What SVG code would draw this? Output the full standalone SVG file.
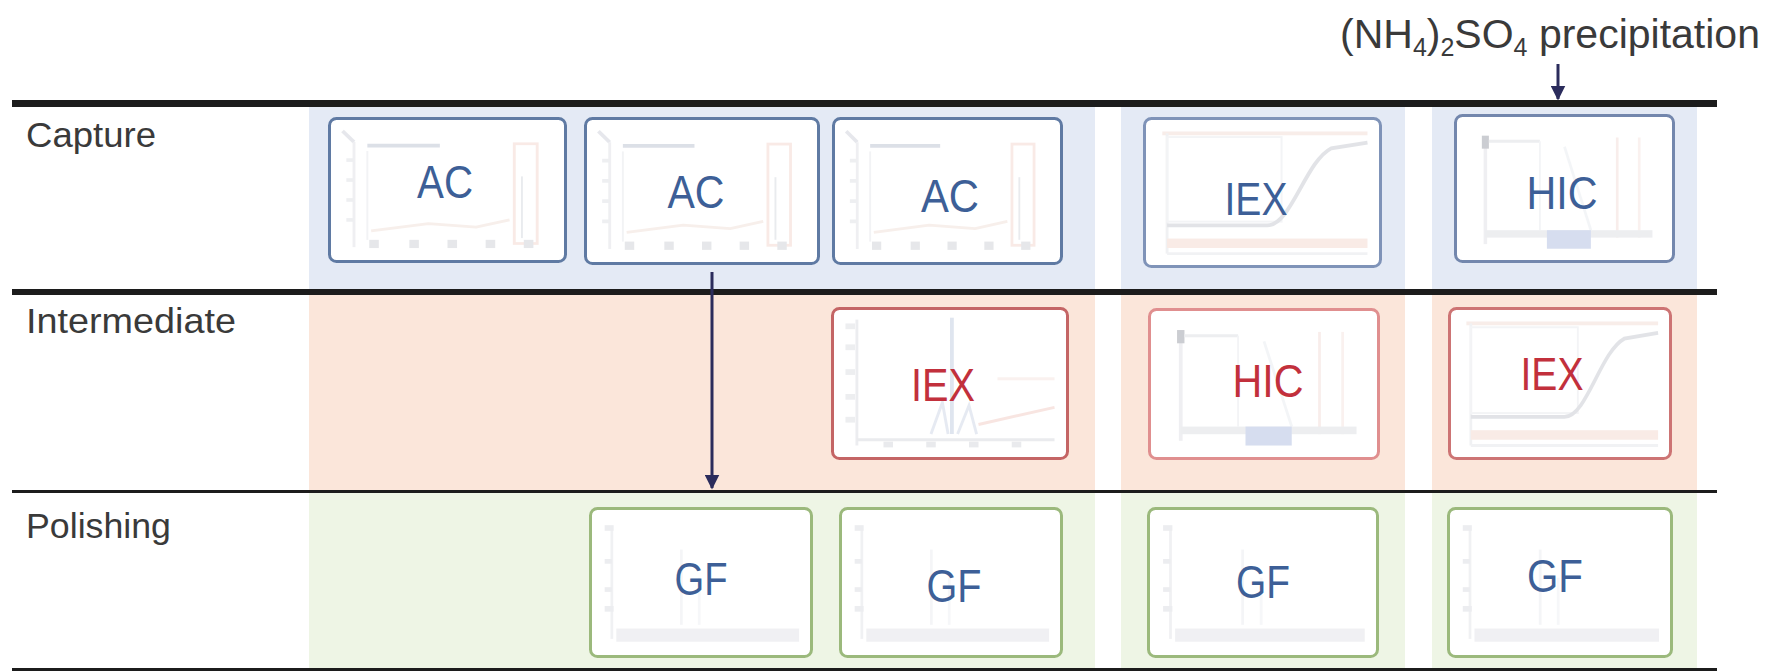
<svg xmlns="http://www.w3.org/2000/svg" xmlns:xlink="http://www.w3.org/1999/xlink" width="1779" height="671" viewBox="0 0 1779 671">
<style>
.row{font-family:"Liberation Sans",Arial,sans-serif;font-size:35px;fill:#3a3a3a}
.lbl{font-family:"Liberation Sans",Arial,sans-serif;font-size:47px;text-anchor:middle}
.blue{fill:#3d5f97}
.red{fill:#c2303c}
.bx{fill:#ffffff;stroke-width:3}
.bb{stroke:#5f7aa3}
.br{stroke:#cd7474}
.bg{stroke:#9bb97c}
.rule{stroke:#1c1c1c}
.conn{stroke:#2b2c5c;stroke-width:3;fill:none}
.ch{opacity:0.45}
</style>
<defs>
<marker id="ah" viewBox="0 0 10 10" refX="9" refY="5" markerWidth="5" markerHeight="5" orient="auto" markerUnits="strokeWidth">
<path d="M0,0 L10,5 L0,10 z" fill="#2b2c5c"/>
</marker>
<symbol id="chAC" viewBox="0 0 240 150" preserveAspectRatio="none">
<g>
<line x1="10" y1="10" x2="22" y2="22" stroke="#c9ccd6" stroke-width="4"/>
<line x1="22" y1="22" x2="22" y2="138" stroke="#dcdde3" stroke-width="3"/>
<line x1="36" y1="26" x2="112" y2="26" stroke="#b3bbcc" stroke-width="4"/>
<line x1="36" y1="32" x2="36" y2="130" stroke="#e3e5ea" stroke-width="2"/>
<rect x="190" y="24" width="24" height="110" fill="none" stroke="#f2d2c8" stroke-width="3"/>
<line x1="198" y1="60" x2="198" y2="128" stroke="#d0d3db" stroke-width="2"/>
<g fill="#dadce2"><rect x="14" y="40" width="8" height="4"/><rect x="14" y="62" width="8" height="4"/><rect x="14" y="84" width="8" height="4"/><rect x="14" y="106" width="8" height="4"/></g>
<g fill="#c9cbd2"><rect x="38" y="130" width="10" height="9"/><rect x="80" y="130" width="10" height="9"/><rect x="120" y="130" width="10" height="9"/><rect x="160" y="130" width="10" height="9"/><rect x="200" y="130" width="10" height="9"/></g>
<polyline points="40,120 100,112 150,116 185,108" fill="none" stroke="#efdcd3" stroke-width="3"/>
</g>
</symbol>
<symbol id="chIEXs" viewBox="0 0 240 150" preserveAspectRatio="none">
<g>
<line x1="15" y1="12" x2="230" y2="12" stroke="#f0d8d0" stroke-width="4"/>
<line x1="20" y1="12" x2="20" y2="140" stroke="#e0e1e6" stroke-width="3"/>
<rect x="20" y="16" width="120" height="90" fill="none" stroke="#e6e7ec" stroke-width="2"/>
<path d="M20 110 L125 110 C150 110 165 42 192 28 L230 22" fill="none" stroke="#bfc3cb" stroke-width="4"/>
<rect x="20" y="124" width="210" height="10" fill="#f2d4c8"/>
<line x1="20" y1="140" x2="230" y2="140" stroke="#e2e3e8" stroke-width="3"/>
</g>
</symbol>
<symbol id="chHIC" viewBox="0 0 240 150" preserveAspectRatio="none">
<g>
<line x1="30" y1="20" x2="30" y2="135" stroke="#dcdde3" stroke-width="4"/>
<rect x="26" y="18" width="8" height="14" fill="#8e929c"/>
<line x1="34" y1="24" x2="92" y2="24" stroke="#d8dae0" stroke-width="3"/>
<line x1="92" y1="24" x2="92" y2="120" stroke="#e5e7ec" stroke-width="2"/>
<line x1="180" y1="20" x2="180" y2="128" stroke="#f1d9d3" stroke-width="3"/>
<line x1="205" y1="20" x2="205" y2="128" stroke="#f4e2dd" stroke-width="3"/>
<line x1="120" y1="30" x2="150" y2="120" stroke="#e6e9ef" stroke-width="3"/>
<rect x="30" y="120" width="190" height="8" fill="#d8dae0"/>
<rect x="100" y="120" width="50" height="20" fill="#a6b6dd"/>
</g>
</symbol>
<symbol id="chIEXp" viewBox="0 0 240 150" preserveAspectRatio="none">
<g>
<line x1="22" y1="8" x2="22" y2="140" stroke="#d6d8de" stroke-width="3"/>
<g fill="#d8dae0"><rect x="10" y="12" width="10" height="6"/><rect x="10" y="34" width="10" height="6"/><rect x="10" y="60" width="10" height="6"/><rect x="10" y="86" width="10" height="6"/><rect x="10" y="110" width="10" height="6"/></g>
<line x1="122" y1="6" x2="122" y2="128" stroke="#b9c6dc" stroke-width="4"/>
<path d="M100 128 L112 95 L118 128 M128 128 L140 98 L148 128" fill="none" stroke="#c9d1e4" stroke-width="3"/>
<path d="M150 118 L230 100" fill="none" stroke="#f0c6be" stroke-width="3"/>
<line x1="170" y1="70" x2="230" y2="70" stroke="#f5e2dc" stroke-width="3"/>
<line x1="22" y1="134" x2="230" y2="134" stroke="#d2d4da" stroke-width="3"/>
<g fill="#cfd1d8"><rect x="50" y="136" width="10" height="6"/><rect x="95" y="136" width="10" height="6"/><rect x="140" y="136" width="10" height="6"/><rect x="185" y="136" width="10" height="6"/></g>
</g>
</symbol>
<symbol id="chGF" viewBox="0 0 240 150" preserveAspectRatio="none">
<g>
<line x1="20" y1="15" x2="20" y2="135" stroke="#e0e1e6" stroke-width="3"/>
<g fill="#d6d8de"><rect x="12" y="14" width="10" height="6"/><rect x="12" y="50" width="8" height="5"/><rect x="12" y="80" width="8" height="5"/><rect x="12" y="100" width="10" height="6"/></g>
<line x1="98" y1="40" x2="98" y2="120" stroke="#e8eaef" stroke-width="3"/>
<line x1="118" y1="70" x2="118" y2="120" stroke="#eceef2" stroke-width="3"/>
<rect x="25" y="124" width="205" height="14" fill="#dfe0e5"/>
</g>
</symbol>
</defs>
<rect x="0" y="0" width="1779" height="671" fill="#ffffff"/>
<g id="bands">
<rect x="309" y="107" width="786" height="182" fill="#e4eaf5"/>
<rect x="1121" y="107" width="284" height="182" fill="#e4eaf5"/>
<rect x="1432" y="107" width="265" height="182" fill="#e4eaf5"/>
<rect x="309" y="295" width="786" height="195" fill="#fbe6da"/>
<rect x="1121" y="295" width="284" height="195" fill="#fbe6da"/>
<rect x="1432" y="295" width="265" height="195" fill="#fbe6da"/>
<rect x="309" y="493" width="786" height="175" fill="#eef5e5"/>
<rect x="1121" y="493" width="284" height="175" fill="#eef5e5"/>
<rect x="1432" y="493" width="265" height="175" fill="#eef5e5"/>
</g>
<g id="rules">
<line class="rule" x1="12" y1="103.5" x2="1717" y2="103.5" stroke-width="7"/>
<line class="rule" x1="12" y1="292" x2="1717" y2="292" stroke-width="6"/>
<line class="rule" x1="12" y1="491.5" x2="1717" y2="491.5" stroke-width="3"/>
<line class="rule" x1="12" y1="669.5" x2="1717" y2="669.5" stroke-width="3"/>
</g>
<g id="row-labels">
<text class="row" x="26" y="147" textLength="130" lengthAdjust="spacingAndGlyphs">Capture</text>
<text class="row" x="26" y="333" textLength="210" lengthAdjust="spacingAndGlyphs">Intermediate</text>
<text class="row" x="26" y="538" textLength="145" lengthAdjust="spacingAndGlyphs">Polishing</text>
</g>
<g id="precip-label">
<text x="1340" y="48" font-family="'Liberation Sans',Arial,sans-serif" font-size="41" fill="#3a3a3a">(NH<tspan font-size="25" dy="8">4</tspan><tspan dy="-8">)</tspan><tspan font-size="25" dy="8">2</tspan><tspan dy="-8">SO</tspan><tspan font-size="25" dy="8">4</tspan><tspan dy="-8"> precipitation</tspan></text>
</g>
<g id="cap-ac1"><rect class="bx bb" x="329.5" y="118.5" width="236" height="143" rx="7"/><use class="ch" xlink:href="#chAC" x="333" y="122" width="229" height="136"/><text class="lbl blue" x="445" y="198" textLength="56" lengthAdjust="spacingAndGlyphs">AC</text></g>
<g id="cap-ac2"><rect class="bx bb" x="585.5" y="118.5" width="233" height="145" rx="7"/><use class="ch" xlink:href="#chAC" x="589" y="122" width="226" height="138"/><text class="lbl blue" x="696" y="208" textLength="57" lengthAdjust="spacingAndGlyphs">AC</text></g>
<g id="cap-ac3"><rect class="bx bb" x="833.5" y="118.5" width="228" height="145" rx="7"/><use class="ch" xlink:href="#chAC" x="837" y="122" width="221" height="138"/><text class="lbl blue" x="950" y="212" textLength="58" lengthAdjust="spacingAndGlyphs">AC</text></g>
<g id="cap-iex"><rect class="bx bb" x="1144.5" y="118.5" width="236" height="148" rx="7" style="stroke:#7f93b8"/><use class="ch" xlink:href="#chIEXs" x="1148" y="122" width="229" height="141"/><text class="lbl blue" x="1256" y="215" textLength="63" lengthAdjust="spacingAndGlyphs">IEX</text></g>
<g id="cap-hic"><rect class="bx bb" x="1455.5" y="115.5" width="218" height="146" rx="7" style="stroke:#7387ad"/><use class="ch" xlink:href="#chHIC" x="1459" y="119" width="211" height="139"/><text class="lbl blue" x="1562" y="209" textLength="71" lengthAdjust="spacingAndGlyphs">HIC</text></g>
<g id="int-iex1"><rect class="bx br" x="832.5" y="308.5" width="235" height="150" rx="7" style="stroke:#c46565"/><use class="ch" xlink:href="#chIEXp" x="836" y="312" width="228" height="143"/><text class="lbl red" x="943" y="401" textLength="64" lengthAdjust="spacingAndGlyphs">IEX</text></g>
<g id="int-hic"><rect class="bx br" x="1149.5" y="309.5" width="229" height="149" rx="7" style="stroke:#e08f8f"/><use class="ch" xlink:href="#chHIC" x="1153" y="313" width="222" height="142"/><text class="lbl red" x="1268" y="397" textLength="71" lengthAdjust="spacingAndGlyphs">HIC</text></g>
<g id="int-iex2"><rect class="bx br" x="1449.5" y="308.5" width="221" height="150" rx="7"/><use class="ch" xlink:href="#chIEXs" x="1453" y="312" width="214" height="143"/><text class="lbl red" x="1552" y="390" textLength="63" lengthAdjust="spacingAndGlyphs">IEX</text></g>
<g id="pol-gf1"><rect class="bx bg" x="590.5" y="508.5" width="221" height="148" rx="7"/><use class="ch" xlink:href="#chGF" x="594" y="512" width="214" height="141"/><text class="lbl blue" x="701" y="595" textLength="53" lengthAdjust="spacingAndGlyphs">GF</text></g>
<g id="pol-gf2"><rect class="bx bg" x="840.5" y="508.5" width="221" height="148" rx="7"/><use class="ch" xlink:href="#chGF" x="844" y="512" width="214" height="141"/><text class="lbl blue" x="954" y="602" textLength="55" lengthAdjust="spacingAndGlyphs">GF</text></g>
<g id="pol-gf3"><rect class="bx bg" x="1148.5" y="508.5" width="229" height="148" rx="7"/><use class="ch" xlink:href="#chGF" x="1152" y="512" width="222" height="141"/><text class="lbl blue" x="1263" y="598" textLength="54" lengthAdjust="spacingAndGlyphs">GF</text></g>
<g id="pol-gf4"><rect class="bx bg" x="1448.5" y="508.5" width="223" height="148" rx="7"/><use class="ch" xlink:href="#chGF" x="1452" y="512" width="216" height="141"/><text class="lbl blue" x="1555" y="592" textLength="56" lengthAdjust="spacingAndGlyphs">GF</text></g>
<g id="connectors">
<line class="conn" x1="1558" y1="64" x2="1558" y2="99" marker-end="url(#ah)"/>
<line class="conn" x1="712" y1="272" x2="712" y2="488" marker-end="url(#ah)"/>
</g>
</svg>
